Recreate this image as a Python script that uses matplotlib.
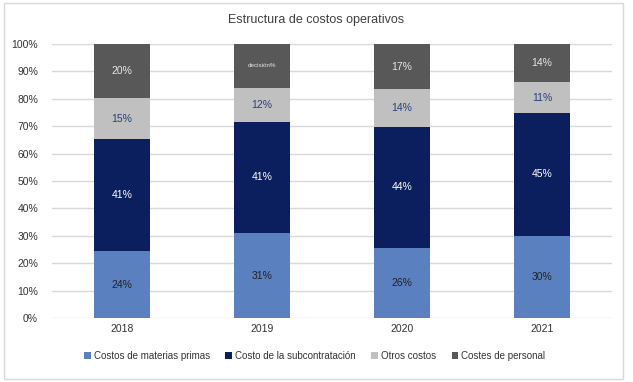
import matplotlib.pyplot as plt
from matplotlib.patches import Rectangle
import numpy as np

plt.rcParams['font.family'] = ['Liberation Sans', 'DejaVu Sans']

years = ['2018', '2019', '2020', '2021']
materias = [24.4, 31.0, 25.7, 30.0]
subcontratacion = [40.8, 40.6, 44.1, 44.8]
otros = [15.0, 12.4, 13.6, 11.2]
personal = [19.8, 16.0, 16.6, 14.0]

series = [
    ('Costos de materias primas', materias, '#5a80c0', '#222222'),
    ('Costo de la subcontratación', subcontratacion, '#0b1f5e', '#ffffff'),
    ('Otros costos', otros, '#c0c0c0', '#2a3f7a'),
    ('Costes de personal', personal, '#585858', '#e6e6e6'),
]

fig = plt.figure(figsize=(6.33, 3.82), dpi=100)
ax = fig.add_axes([0.082, 0.1675, 0.885, 0.7175])

x = np.arange(len(years))
bottom = np.zeros(len(years))
for name, vals, color, tcolor in series:
    vals = np.array(vals)
    ax.bar(x, vals, 0.4, bottom=bottom, color=color, label=name, zorder=3)
    for i, v in enumerate(vals):
        txt = f'{v:.0f}%'
        size = 7.5
        if name == 'Costes de personal' and years[i] == '2019':
            txt = 'decisión%'
            size = 4.5
        ax.text(x[i], bottom[i] + v / 2, txt, ha='center', va='center',
                color=tcolor, fontsize=size, zorder=4)
    bottom += vals

ax.set_xlim(-0.5, len(years) - 0.5)
ax.set_ylim(0, 100)
ax.set_yticks(np.arange(0, 101, 10))
ax.set_yticklabels([f'{t}%' for t in range(0, 101, 10)])
ax.set_xticks(x)
ax.set_xticklabels(years)
ax.tick_params(length=0, labelsize=7.5, colors='#333333')
ax.tick_params(axis='y', pad=10)
ax.tick_params(axis='x', pad=4)
ax.grid(axis='y', color='#d9d9d9', linewidth=1, zorder=0)
for s in ax.spines.values():
    s.set_visible(False)

fig.text(0.5, 0.947, 'Estructura de costos operativos', ha='center', va='center',
         fontsize=9, color='#404040')

fig.legend(loc='center', bbox_to_anchor=(0.497, 0.068), ncol=4, frameon=False,
           fontsize=7, handlelength=0.7, handleheight=0.7, columnspacing=1.6,
           handletextpad=0.3, labelcolor='#333333')

fig.patches.append(Rectangle((0.006, 0.008), 0.978, 0.985, transform=fig.transFigure,
                             fill=False, edgecolor='#d9d9d9', linewidth=1))

fig.savefig('out.png', dpi=100)
